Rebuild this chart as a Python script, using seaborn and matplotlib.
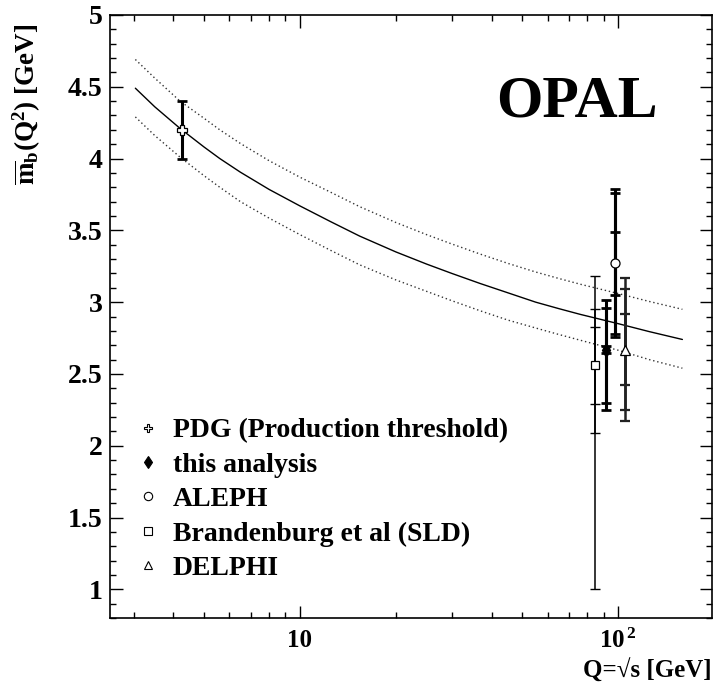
import numpy as np
import matplotlib
matplotlib.use("Agg")
import matplotlib.pyplot as plt
import seaborn as sns
from matplotlib.lines import Line2D
from matplotlib.ticker import FixedLocator, NullFormatter, MultipleLocator

######################################### DATA #########################################

# running b-quark mass curve (central value and band edges)
q_curve = [3.04, 3.5, 4.2, 5.0, 5.6, 6.5, 8.0, 10, 12.5, 15.4, 20, 25, 30, 36.8,
           45, 55, 65, 75.9, 100, 125, 159]
mb_central = [4.49, 4.36, 4.21, 4.08, 4.00, 3.905, 3.785, 3.67, 3.56, 3.46, 3.35, 3.265,
              3.20, 3.13, 3.065, 3.00, 2.955, 2.915, 2.85, 2.795, 2.74]
mb_upper = [4.69, 4.56, 4.40, 4.28, 4.20, 4.105, 3.985, 3.87, 3.765, 3.665, 3.555, 3.47,
            3.405, 3.335, 3.27, 3.21, 3.165, 3.125, 3.06, 3.005, 2.95]
mb_lower = [4.29, 4.16, 4.01, 3.88, 3.80, 3.70, 3.585, 3.47, 3.36, 3.26, 3.155, 3.075,
            3.01, 2.94, 2.875, 2.82, 2.775, 2.735, 2.665, 2.60, 2.54]

# measurements: Q, value, list of (err_down, err_up) components
labels = ['PDG (Production threshold)', 'this analysis', 'ALEPH',
          'Brandenburg et al (SLD)', 'DELPHI']
q_meas = [4.25, 91.2, 97.5, 84.5, 105.0]
mb_meas = [4.20, 2.67, 3.27, 2.56, 2.67]
errors = [
    [(0.20, 0.20)],
    [(0.025, 0.025), (0.37, 0.29), (0.42, 0.345)],
    [(0.22, 0.22), (0.49, 0.49), (0.515, 0.52)],
    [(0.27, 0.27), (0.47, 0.39), (1.56, 0.62)],
    [(0.25, 0.25), (0.42, 0.42), (0.50, 0.50)],
]

######################################### STYLE #########################################

sns.set_theme(style='ticks')
plt.rcParams['font.family'] = ['Liberation Serif', 'DejaVu Serif']
plt.rcParams['font.weight'] = 'bold'
plt.rcParams['text.color'] = 'black'
plt.rcParams['axes.labelcolor'] = 'black'
plt.rcParams['xtick.color'] = 'black'
plt.rcParams['ytick.color'] = 'black'
plt.rcParams['mathtext.fontset'] = 'custom'
plt.rcParams['mathtext.rm'] = 'Liberation Serif:bold'
plt.rcParams['mathtext.it'] = 'Liberation Serif:bold'
plt.rcParams['mathtext.bf'] = 'Liberation Serif:bold'

markers = ['P', 'd', 'o', 's', '^']
marker_face = ['white', 'black', 'white', 'white', 'white']
marker_size = [7, 7, 6.5, 6, 6.5]
bar_width = [2.2, 2.2, 2.2, 1.1, 1.8]
bar_color = ['black', 'black', 'black', 'black', '#222222']

######################################### PLOT #########################################

fig = plt.figure(figsize=(7.23, 6.87), dpi=100)
ax = fig.add_axes([0.1521, 0.1004, 0.8327, 0.8778])

sns.lineplot(x=q_curve, y=mb_central, ax=ax, color='black', lw=1.0)
sns.lineplot(x=q_curve, y=mb_upper, ax=ax, color='#333333', lw=1.0, linestyle=(0, (1, 2)))
sns.lineplot(x=q_curve, y=mb_lower, ax=ax, color='#333333', lw=1.0, linestyle=(0, (1, 2)))

for i in range(len(labels)):
    for lo, hi in errors[i]:
        ax.errorbar([q_meas[i]], [mb_meas[i]], yerr=[[lo], [hi]], fmt='none',
                    ecolor=bar_color[i], elinewidth=bar_width[i], capsize=3.6,
                    capthick=bar_width[i] * 0.9, zorder=3)
    ax.plot([q_meas[i]], [mb_meas[i]], marker=markers[i], ms=marker_size[i],
            mfc=marker_face[i], mec='black', mew=0.9, ls='none', zorder=4)

ax.set_xscale('log')
ax.set_xlim(2.53, 197)
ax.set_ylim(0.8, 5)

ax.xaxis.set_major_locator(FixedLocator([10, 100]))
ax.set_xticklabels(['10', r'$\mathbf{10^{\,2}}$'])
ax.xaxis.set_minor_locator(FixedLocator([3, 4, 5, 6, 7, 8, 9, 20, 30, 40, 50, 60, 70, 80, 90]))
ax.xaxis.set_minor_formatter(NullFormatter())
ax.yaxis.set_minor_locator(MultipleLocator(0.1))
ax.set_yticks([1, 1.5, 2, 2.5, 3, 3.5, 4, 4.5, 5])
ax.set_yticklabels(['1', '1.5', '2', '2.5', '3', '3.5', '4', '4.5', '5'])

ax.tick_params(which='both', direction='in', top=True, right=True, width=1.0)
ax.tick_params(which='major', length=9)
ax.tick_params(axis='y', which='major', labelsize=20, pad=5.5)
ax.tick_params(axis='x', which='major', labelsize=18, pad=8)
ax.tick_params(which='minor', length=4.5)
for s in ax.spines.values():
    s.set_linewidth(1.2)
    s.set_color('black')

ax.set_ylabel(r'$\overline{\mathbf{m}}_{\mathbf{b}}(\mathbf{Q}^{2})$ [GeV]',
              fontsize=19.5, fontweight='bold')
ax.yaxis.set_label_coords(-0.111, 0.851)
ax.set_xlabel('Q=√s [GeV]', fontsize=18, fontweight='bold', loc='right')
ax.xaxis.set_label_coords(1.0, -0.068)

ax.text(0.775, 0.855, 'OPAL', transform=ax.transAxes, fontsize=43,
        fontweight='bold', ha='center', va='center')

handles = [Line2D([], [], marker=markers[i], ms=6, mfc=marker_face[i], mec='black',
                  mew=0.8, ls='none') for i in range(len(labels))]
ax.legend(handles, labels, loc='upper left', bbox_to_anchor=(0.003, 0.373),
          frameon=False, prop={'size': 20, 'weight': 'bold'},
          handletextpad=0.5, labelspacing=0.32, handlelength=0.8)

plt.savefig('out.png', dpi=100)
